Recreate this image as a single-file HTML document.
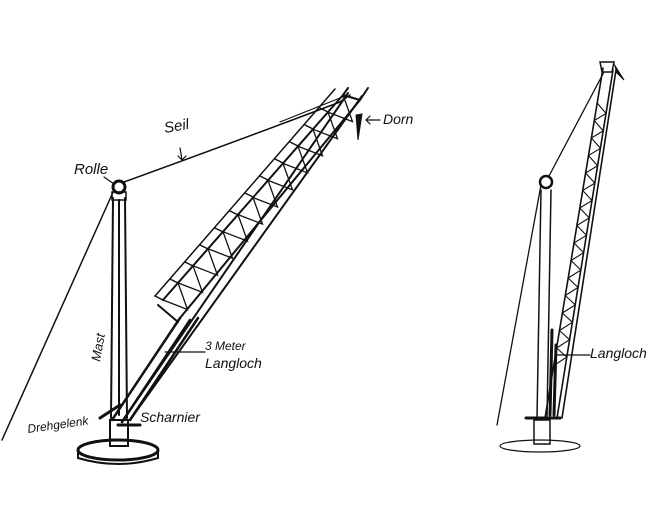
<!DOCTYPE html>
<html><head><style>
html,body{margin:0;padding:0;background:#fff;}
svg{display:block}
text{font-family:"Liberation Sans",sans-serif;font-style:italic;fill:#111;}
</style></head><body>
<svg width="670" height="518" viewBox="0 0 670 518" xmlns="http://www.w3.org/2000/svg">
<rect width="670" height="518" fill="#fff"/>
<g stroke="#111" fill="none" stroke-linecap="round">
<!-- LEFT CRANE -->
<ellipse cx="118" cy="450" rx="40" ry="10" stroke-width="3"/>
<path d="M78 450 L78 458 Q118 470 158 458 L158 450" stroke-width="2"/>
<rect x="110" y="420" width="18" height="26" stroke-width="2"/>
<path d="M113 198 L111 418 M125 198 L127 418 M119 200 L119 415" stroke-width="2"/>
<rect x="112" y="192" width="14" height="8" stroke-width="1.5"/>
<circle cx="119" cy="187" r="6" stroke-width="3"/>
<path d="M114 190 L2 440" stroke-width="1.5"/>
<path d="M124 182 Q240 140 340 102 L350 95" stroke-width="1.5"/>
<path d="M280 122 L345 96" stroke-width="1.2"/>
<!-- boom lower rails -->
<path d="M112 420 L180 318 M122 422 L190 320 M130 420 L198 318" stroke-width="2.5"/>
<path d="M130 420 L362 96 M122 422 L348 93" stroke-width="2"/>
<!-- lattice section -->
<path d="M163 300 L343 95 M180 318 L360 100 M158 305 L178 322 M343 95 L360 100 M343 95 L348 88 M360 100 L368 88" stroke-width="2"/>
<path d="M155 296 L335 89" stroke-width="1.5"/>
<path d="M163 300 L155 296 M178 283 L170 279 M193 266 L185 262 M208 249 L200 245 M223 232 L215 228 M238 215 L230 211 M253 197 L245 193 M268 180 L260 176 M283 163 L275 159 M298 146 L290 142 M313 129 L305 125 M328 112 L320 108" stroke-width="1.5"/>
<polyline points="163,300 187.5,309.5 178,282.9 202.5,292.4 193,265.8 217.5,275.3 208,248.8 232.5,258.2 223,231.7 247.5,241.1 238,214.6 262.5,224.1 253,197.5 277.5,207 268,180.4 292.5,189.9 283,163.4 307.5,172.8 298,146.3 322.5,155.7 313,129.2 337.5,138.7 328,112.1 352.5,121.6 343,95" stroke-width="1.3"/>
<path d="M356 115 L362 114 L358 140 Z" fill="#111" stroke-width="1"/>
<path d="M100 418 L120 405 M118 425 L140 425" stroke-width="3"/>
<path d="M380 120 L366 120 M370 116 L366 120 L370 124" stroke-width="1.2"/>
<path d="M180 148 L182 160 M178 156 L182 160 L186 156" stroke-width="1.2"/>
<path d="M104 177 L114 184" stroke-width="1.2"/>
<path d="M165 352 L205 352" stroke-width="1.2"/>

<!-- RIGHT CRANE -->
<ellipse cx="540" cy="446" rx="40" ry="6" stroke-width="1.2"/>
<rect x="534" y="420" width="16" height="24" stroke-width="1.5"/>
<path d="M526 418 L560 418" stroke-width="3"/>
<path d="M541 190 L537 418 M551 190 L547 418" stroke-width="1.5"/>
<circle cx="546" cy="182" r="6" stroke-width="2.5"/>
<path d="M541 185 L497 425" stroke-width="1.3"/>
<path d="M549 176 L604 72" stroke-width="1.3"/>
<path d="M545 418 L603 68 M557 418 L613 70 M562 418 L616 70" stroke-width="1.6"/>
<path d="M600 62 L614 62 L612 72 L602 72 Z" stroke-width="1.5"/>
<path d="M614 64 L624 80 L616 72" fill="#111" stroke-width="1"/>
<polyline points="553.7,365.5 566.8,357.1 556.6,348 569.6,339.7 559.5,330.5 572.4,322.3 562.4,313 575.2,304.9 565.3,295.5 578,287.5 568.2,278 580.8,270.1 571.1,260.5 583.6,252.7 574,243 586.4,235.3 576.9,225.5 589.2,217.9 579.8,208 592,200.5 582.7,190.5 594.8,183.1 585.6,173 597.6,165.7 588.5,155.5 600.4,148.3 591.4,138 603.2,130.9 594.3,120.5 606,113.5 597.2,103" stroke-width="1.1"/>
<path d="M552 330 L550 415 M556 345 L554 415" stroke-width="3"/>
<path d="M557 355 L590 355" stroke-width="1.2"/>
</g>
<text x="165" y="133" font-size="15" transform="rotate(-10 165 133)">Seil</text>
<text x="74" y="174" font-size="15">Rolle</text>
<text x="383" y="124" font-size="14">Dorn</text>
<text x="100" y="362" font-size="13" transform="rotate(-80 100 362)">Mast</text>
<text x="205" y="350" font-size="12">3 Meter</text>
<text x="205" y="368" font-size="14">Langloch</text>
<text x="28" y="433" font-size="12" transform="rotate(-8 28 433)">Drehgelenk</text>
<text x="140" y="422" font-size="14">Scharnier</text>
<text x="590" y="358" font-size="14">Langloch</text>
</svg>
</body></html>
